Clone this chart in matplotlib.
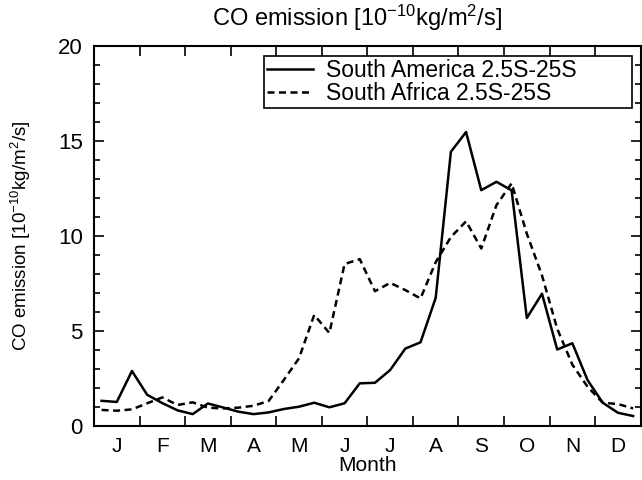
import numpy as np
import matplotlib
matplotlib.use("Agg")
import matplotlib.pyplot as plt
from matplotlib.ticker import MultipleLocator, FixedLocator

plt.rcParams['font.family'] = ['Liberation Sans', 'DejaVu Sans']
plt.rcParams['mathtext.default'] = 'regular'

# 10-day values, 3 per month
south_america = [1.30, 1.24, 2.87, 1.62, 1.18, 0.80, 0.60, 1.16, 0.95, 0.73,
                 0.60, 0.69, 0.87, 0.99, 1.20, 0.96, 1.17, 2.22, 2.25, 2.92,
                 4.05, 4.38, 6.72, 14.41, 15.45, 12.39, 12.83, 12.38, 5.66, 6.94,
                 4.00, 4.33, 2.39, 1.20, 0.67, 0.50]
south_africa = [0.82, 0.78, 0.85, 1.17, 1.48, 1.08, 1.22, 0.94, 0.90, 0.94,
                1.04, 1.29, 2.40, 3.54, 5.82, 4.87, 8.50, 8.76, 7.07, 7.51,
                7.13, 6.69, 8.60, 9.92, 10.75, 9.32, 11.60, 12.75, 10.10, 7.90,
                5.10, 3.20, 2.04, 1.20, 1.13, 0.90]
months = ['J', 'F', 'M', 'A', 'M', 'J', 'J', 'A', 'S', 'O', 'N', 'D']
labels = ['South America 2.5S-25S', 'South Africa 2.5S-25S']

x = (np.arange(len(south_america)) + 0.5) / 3.0

fig = plt.figure(figsize=(6.42, 4.8), dpi=100)
ax = fig.add_axes([0.1464, 0.1135, 0.8516, 0.7915])

ax.plot(x, south_america, color='black', lw=1.8, label=labels[0])
ax.plot(x, south_africa, color='black', lw=1.8, linestyle=(0, (2.8, 1.8)), label=labels[1])

ax.set_xlim(0, 12)
ax.set_ylim(0, 20)

# month boundaries as ticks, names in between
ax.xaxis.set_major_locator(MultipleLocator(1))
ax.xaxis.set_minor_locator(FixedLocator(np.arange(12) + 0.5))
ax.xaxis.set_major_formatter(plt.NullFormatter())
ax.xaxis.set_minor_formatter(plt.FixedFormatter(months))
ax.tick_params(axis='x', which='major', direction='in', length=7.5, width=1.2,
               top=True, bottom=True)
ax.tick_params(axis='x', which='minor', length=0, pad=8, labelsize=15)

ax.yaxis.set_major_locator(MultipleLocator(5))
ax.yaxis.set_minor_locator(MultipleLocator(1))
ax.tick_params(axis='y', which='major', direction='in', length=7.5, width=1.2,
               left=True, right=True, labelsize=16, pad=8)
ax.tick_params(axis='y', which='minor', direction='in', length=4, width=1.2,
               left=True, right=True)

for s in ax.spines.values():
    s.set_linewidth(1.5)

ax.set_xlabel('Month', fontsize=15, labelpad=0)
ax.set_ylabel('CO emission [10$^{-10}$kg/m$^2$/s]', fontsize=13.5, labelpad=18)
ax.set_title('CO emission [10$^{-10}$kg/m$^2$/s]', fontsize=17, pad=14, x=0.482)

leg = ax.legend(loc='upper left', bbox_to_anchor=(0.311, 0.856, 0.673, 0.116),
                mode='expand', fontsize=16.5,
                frameon=True, fancybox=False, edgecolor='black', framealpha=1,
                handlelength=2.0, borderpad=0.12, labelspacing=0.0,
                handletextpad=0.6, borderaxespad=0)
leg.get_frame().set_linewidth(1.2)

fig.savefig('out.png', dpi=100)
